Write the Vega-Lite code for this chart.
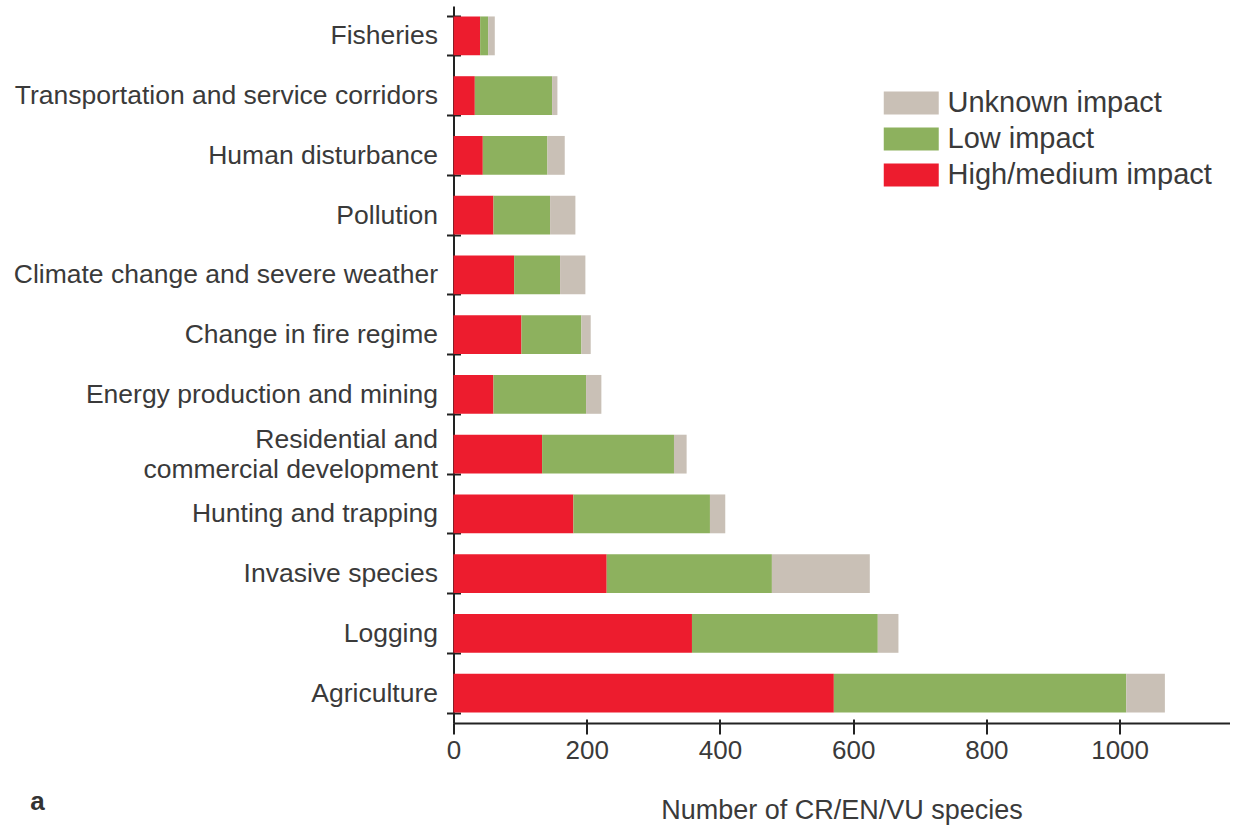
{
  "$schema": "https://vega.github.io/schema/vega-lite/v6.json",
  "width": 776,
  "height": 717,
  "autosize": {"type": "none"},
  "padding": {"left": 453.5, "top": 6, "right": 17.5, "bottom": 104},
  "background": "white",
  "config": {
    "view": {"stroke": null},
    "font": "Liberation Sans",
    "axis": {"labelFont": "Liberation Sans", "titleFont": "Liberation Sans", "labelColor": "#3a3a3a", "titleColor": "#3a3a3a", "domainColor": "#222", "tickColor": "#222"}
  },
  "title": {"text": "a", "orient": "bottom", "anchor": "start", "frame": "bounds", "fontSize": 26, "fontWeight": "bold", "color": "#333", "dx": 17, "dy": -38, "font": "Liberation Sans"},
  "data": {"values": [
    {"category": "Fisheries", "level": "High/medium impact", "o": 1, "value": 40},
    {"category": "Fisheries", "level": "Low impact", "o": 2, "value": 12},
    {"category": "Fisheries", "level": "Unknown impact", "o": 3, "value": 10},
    {"category": "Transportation and service corridors", "level": "High/medium impact", "o": 1, "value": 32},
    {"category": "Transportation and service corridors", "level": "Low impact", "o": 2, "value": 116},
    {"category": "Transportation and service corridors", "level": "Unknown impact", "o": 3, "value": 8},
    {"category": "Human disturbance", "level": "High/medium impact", "o": 1, "value": 44},
    {"category": "Human disturbance", "level": "Low impact", "o": 2, "value": 97},
    {"category": "Human disturbance", "level": "Unknown impact", "o": 3, "value": 26},
    {"category": "Pollution", "level": "High/medium impact", "o": 1, "value": 60},
    {"category": "Pollution", "level": "Low impact", "o": 2, "value": 85},
    {"category": "Pollution", "level": "Unknown impact", "o": 3, "value": 38},
    {"category": "Climate change and severe weather", "level": "High/medium impact", "o": 1, "value": 91},
    {"category": "Climate change and severe weather", "level": "Low impact", "o": 2, "value": 69},
    {"category": "Climate change and severe weather", "level": "Unknown impact", "o": 3, "value": 38},
    {"category": "Change in fire regime", "level": "High/medium impact", "o": 1, "value": 102},
    {"category": "Change in fire regime", "level": "Low impact", "o": 2, "value": 90},
    {"category": "Change in fire regime", "level": "Unknown impact", "o": 3, "value": 14},
    {"category": "Energy production and mining", "level": "High/medium impact", "o": 1, "value": 60},
    {"category": "Energy production and mining", "level": "Low impact", "o": 2, "value": 139},
    {"category": "Energy production and mining", "level": "Unknown impact", "o": 3, "value": 23},
    {"category": "Residential and commercial development", "level": "High/medium impact", "o": 1, "value": 133},
    {"category": "Residential and commercial development", "level": "Low impact", "o": 2, "value": 198},
    {"category": "Residential and commercial development", "level": "Unknown impact", "o": 3, "value": 19},
    {"category": "Hunting and trapping", "level": "High/medium impact", "o": 1, "value": 180},
    {"category": "Hunting and trapping", "level": "Low impact", "o": 2, "value": 205},
    {"category": "Hunting and trapping", "level": "Unknown impact", "o": 3, "value": 23},
    {"category": "Invasive species", "level": "High/medium impact", "o": 1, "value": 230},
    {"category": "Invasive species", "level": "Low impact", "o": 2, "value": 248},
    {"category": "Invasive species", "level": "Unknown impact", "o": 3, "value": 147},
    {"category": "Logging", "level": "High/medium impact", "o": 1, "value": 358},
    {"category": "Logging", "level": "Low impact", "o": 2, "value": 279},
    {"category": "Logging", "level": "Unknown impact", "o": 3, "value": 31},
    {"category": "Agriculture", "level": "High/medium impact", "o": 1, "value": 571},
    {"category": "Agriculture", "level": "Low impact", "o": 2, "value": 439},
    {"category": "Agriculture", "level": "Unknown impact", "o": 3, "value": 58}
  ]},
  "resolve": {"axis": {"x": "independent", "y": "independent"}},
  "layer": [
    {
      "mark": {"type": "bar"},
      "encoding": {
        "y": {
          "field": "category", "type": "nominal",
          "sort": ["Fisheries", "Transportation and service corridors", "Human disturbance", "Pollution", "Climate change and severe weather", "Change in fire regime", "Energy production and mining", "Residential and commercial development", "Hunting and trapping", "Invasive species", "Logging", "Agriculture"],
          "scale": {"paddingInner": 0.35, "paddingOuter": 0.175},
          "axis": {
            "orient": "left", "title": null, "labelFontSize": 26.5, "labelPadding": 9, "tickSize": 7, "tickWidth": 2, "domainWidth": 2,
            "tickBand": "extent", "labelLimit": 600, "labelLineHeight": 30,
            "labelOffset": {"condition": {"test": "datum.value == 'Residential and commercial development'", "value": -15}, "value": 0},
            "labelExpr": "datum.value == 'Residential and commercial development' ? ['Residential and', 'commercial development'] : datum.value"
          }
        },
        "x": {
          "field": "value", "type": "quantitative", "stack": "zero",
          "scale": {"domain": [0, 1165], "nice": false},
          "axis": {
            "orient": "bottom", "title": "Number of CR/EN/VU species", "titleFontSize": 27, "titleFontWeight": "normal", "titlePadding": 34,
            "labelFontSize": 26, "labelPadding": 3, "values": [0, 200, 400, 600, 800, 1000], "format": "d", "tickSize": 11, "tickWidth": 2, "domainWidth": 2, "grid": false, "labelFlush": false
          }
        },
        "color": {
          "field": "level", "type": "nominal",
          "scale": {"domain": ["Unknown impact", "Low impact", "High/medium impact"], "range": ["#C9C0B6", "#8DB15E", "#ED1C2E"]},
          "legend": {
            "title": null, "orient": "none", "legendX": 443.25, "legendY": 82.5,
            "symbolType": "M-2,-0.84L2,-0.84L2,0.84L-2,0.84Z", "symbolSize": 756, "symbolStrokeWidth": 0,
            "labelFontSize": 29, "labelColor": "#3a3a3a", "labelFont": "Liberation Sans", "labelLimit": 600, "rowPadding": 6, "labelOffset": 21.75, "symbolOpacity": 1
          }
        },
        "order": {"field": "o", "type": "quantitative"}
      }
    },
    {
      "mark": {"type": "bar", "opacity": 0},
      "encoding": {
        "y": {
          "field": "category", "type": "nominal",
          "sort": ["Fisheries", "Transportation and service corridors", "Human disturbance", "Pollution", "Climate change and severe weather", "Change in fire regime", "Energy production and mining", "Residential and commercial development", "Hunting and trapping", "Invasive species", "Logging", "Agriculture"],
          "axis": {"orient": "left", "title": null, "labels": false, "domain": false, "tickSize": -7, "tickWidth": 2, "tickBand": "extent"}
        },
        "x": {
          "field": "value", "type": "quantitative", "stack": "zero",
          "axis": {"orient": "bottom", "title": null, "labels": false, "domain": false, "tickSize": -4, "tickWidth": 2, "values": [0, 200, 400, 600, 800, 1000], "grid": false}
        }
      }
    }
  ]
}
